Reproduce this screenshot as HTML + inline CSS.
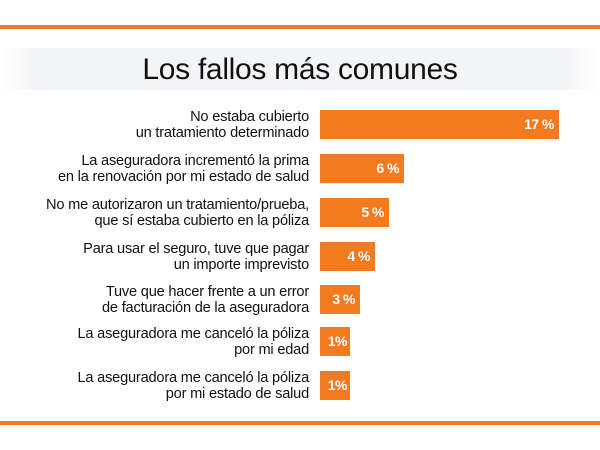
<!DOCTYPE html>
<html><head><meta charset="utf-8"><style>
body{margin:0;width:600px;height:450px;background:#fff;position:relative;overflow:hidden;font-family:"Liberation Sans",sans-serif;}
.line{position:absolute;left:0;width:600px;height:4px;background:#f47a20;}
.band{position:absolute;left:0;top:48px;width:600px;height:42px;background:linear-gradient(90deg,#fff 0%,#f3f4f5 6%,#f3f4f5 94%,#fff 100%);}
.title{position:absolute;left:0;top:50px;width:600px;text-align:center;font-size:30px;color:#111;line-height:40px;letter-spacing:-0.3px;}
.lab{position:absolute;right:291px;text-align:right;font-size:14.6px;line-height:16px;color:#111;white-space:nowrap;letter-spacing:-0.2px;}
.bar{position:absolute;left:320px;height:29px;background:#f47a20;color:#fff;font-weight:bold;font-size:14px;line-height:29px;text-align:right;box-sizing:border-box;padding-right:5px;letter-spacing:-0.5px;}
</style></head><body>
<div class="line" style="top:25px"></div>
<div class="band"></div>
<div class="title">Los fallos más comunes</div>

<div class="lab" style="top:109px">No estaba cubierto<br>un tratamiento determinado</div>
<div class="bar" style="top:110px;width:239px">17 %</div>

<div class="lab" style="top:153px">La aseguradora incrementó la prima<br>en la renovación por mi estado de salud</div>
<div class="bar" style="top:154px;width:84px">6 %</div>

<div class="lab" style="top:197px">No me autorizaron un tratamiento/prueba,<br>que sí estaba cubierto en la póliza</div>
<div class="bar" style="top:198px;width:69px">5 %</div>

<div class="lab" style="top:241px">Para usar el seguro, tuve que pagar<br>un importe imprevisto</div>
<div class="bar" style="top:242px;width:55px">4 %</div>

<div class="lab" style="top:284px">Tuve que hacer frente a un error<br>de facturación de la aseguradora</div>
<div class="bar" style="top:285px;width:40px">3 %</div>

<div class="lab" style="top:326px">La aseguradora me canceló la póliza<br>por mi edad</div>
<div class="bar" style="top:327px;width:30px;padding-right:3px">1%</div>

<div class="lab" style="top:370px">La aseguradora me canceló la póliza<br>por mi estado de salud</div>
<div class="bar" style="top:371px;width:30px;padding-right:3px">1%</div>

<div class="line" style="top:421px"></div>
</body></html>
